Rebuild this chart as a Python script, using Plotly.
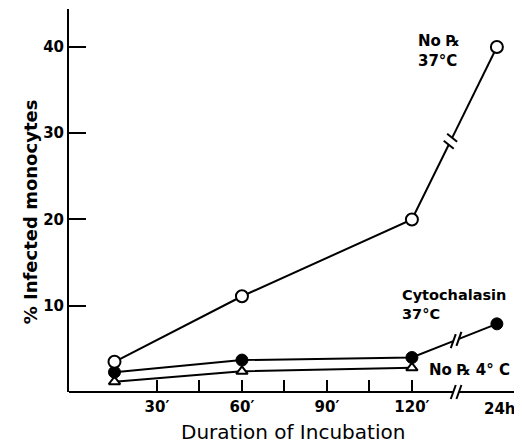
import numpy as np
import plotly.graph_objects as go

# ---- data ----
times = [15, 60, 120, 150]            # minutes; 150 stands for the 24h point (after the axis break)
no_rx_37 = [3.5, 11.1, 20.0, 40.0]
cytochalasin_37 = [2.3, 3.7, 4.0, 7.9]
times_4c = [15, 60, 120]
no_rx_4 = [1.2, 2.4, 2.8]

tick_vals = [30, 45, 60, 75, 90, 105, 120]
tick_text = ["30′", "", "60′", "", "90′", "", "120′"]
y_ticks = [10, 20, 30, 40]

X_RANGE = [-1.06, 157.1]
Y_RANGE = [0, 44.4]
FONT = "DejaVu Sans"


def broken(xs, ys, xb, half):
    """Return x/y with a gap around xb on the segment between the last two points."""
    xs = list(xs); ys = list(ys)
    xa, xc = xb - half, xb + half
    ya = float(np.interp(xa, xs[-2:], ys[-2:]))
    yc = float(np.interp(xc, xs[-2:], ys[-2:]))
    return xs[:-1] + [xa, None, xc, xs[-1]], ys[:-1] + [ya, None, yc, ys[-1]], (xa, ya), (xc, yc)


fig = go.Figure()

line = dict(color="black", width=2)

x1, y1, a1, c1 = broken(times, no_rx_37, 133.6, 0.6)
fig.add_trace(go.Scatter(x=x1, y=y1, mode="lines", line=line, hoverinfo="skip", showlegend=False))
x2, y2, a2, c2 = broken(times, cytochalasin_37, 135.6, 1.0)
fig.add_trace(go.Scatter(x=x2, y=y2, mode="lines", line=line, hoverinfo="skip", showlegend=False))
fig.add_trace(go.Scatter(x=times_4c, y=no_rx_4, mode="lines", line=line, hoverinfo="skip", showlegend=False))

# markers
fig.add_trace(go.Scatter(x=times_4c, y=no_rx_4, mode="markers", cliponaxis=False,
                         marker=dict(symbol="triangle-up", size=10, color="white",
                                     line=dict(color="black", width=2)), showlegend=False))
fig.add_trace(go.Scatter(x=times, y=cytochalasin_37, mode="markers", cliponaxis=False,
                         marker=dict(symbol="circle", size=12, color="black",
                                     line=dict(color="black", width=1)), showlegend=False))
fig.add_trace(go.Scatter(x=times, y=no_rx_37, mode="markers", cliponaxis=False,
                         marker=dict(symbol="circle", size=12, color="white",
                                     line=dict(color="black", width=2)), showlegend=False))

shapes = []
# break marks on the steep line
for (px, py) in (a1, c1):
    shapes.append(dict(type="line", xref="x", yref="y", xsizemode="pixel", ysizemode="pixel",
                       xanchor=px, yanchor=py, x0=-5, x1=5, y0=4, y1=-4,
                       line=dict(color="black", width=2)))
# break marks on the cytochalasin line
for (px, py) in (a2, c2):
    shapes.append(dict(type="line", xref="x", yref="y", xsizemode="pixel", ysizemode="pixel",
                       xanchor=px, yanchor=py, x0=-2.5, x1=2.5, y0=-7, y1=7,
                       line=dict(color="black", width=2)))

# x axis line with a break (paper coords)
def xp(v):
    return (v - X_RANGE[0]) / (X_RANGE[1] - X_RANGE[0])

axis_break, axis_half = 135.6, 1.0
shapes.append(dict(type="line", xref="paper", yref="paper", x0=0, x1=xp(axis_break - axis_half),
                   y0=0, y1=0, line=dict(color="black", width=2)))
shapes.append(dict(type="line", xref="paper", yref="paper", x0=xp(axis_break + axis_half), x1=1,
                   y0=0, y1=0, line=dict(color="black", width=2)))
for v in (axis_break - axis_half, axis_break + axis_half):
    shapes.append(dict(type="line", xref="paper", yref="paper", xsizemode="pixel", ysizemode="pixel",
                       xanchor=xp(v), yanchor=0, x0=-2.5, x1=2.5, y0=-7, y1=7,
                       line=dict(color="black", width=2)))

annotations = [
    dict(x=150, y=0, xref="x", yref="paper", text="<b>24h</b>", showarrow=False,
         yanchor="top", yshift=-6, xshift=3, font=dict(family=FONT, size=15, color="black")),
    dict(x=0.5, y=-0.104, xref="paper", yref="paper", text="Duration of Incubation", showarrow=False,
         yanchor="middle", font=dict(family=FONT, size=20, color="black")),
    dict(x=-0.112, y=0.47, xref="paper", yref="paper", text="<b>% Infected monocytes</b>",
         showarrow=False, textangle=-90, font=dict(family=FONT, size=18, color="black")),
    dict(x=129.5, y=39.5, xref="x", yref="y", text="<b>No ℞<br>37°C</b>", showarrow=False,
         align="left", font=dict(family=FONT, size=15, color="black")),
    dict(x=115.8, y=10.2, xref="x", yref="y", text="<b>Cytochalasin<br>37°C</b>", showarrow=False,
         xanchor="left", align="left", font=dict(family=FONT, size=14.5, color="black")),
    dict(x=125.3, y=2.55, xref="x", yref="y", text="<b>No ℞ 4° C</b>", showarrow=False,
         xanchor="left", font=dict(family=FONT, size=15, color="black")),
]

# The page places the figure 8px from the top-left corner, so the figure is
# sized to fill the rest of the 522x443 window.
fig.update_layout(
    width=514, height=435,
    margin=dict(l=61, r=5, t=1, b=51),
    paper_bgcolor="white", plot_bgcolor="white",
    shapes=shapes, annotations=annotations,
    xaxis=dict(range=X_RANGE, showgrid=False, zeroline=False, showline=False,
               tickvals=tick_vals, ticktext=tick_text, ticks="inside", ticklen=12,
               tickwidth=2, tickcolor="black", ticklabelstandoff=4,
               tickfont=dict(family=FONT, size=15, color="black", weight="bold")),
    yaxis=dict(range=Y_RANGE, showgrid=False, zeroline=False, showline=True, linecolor="black",
               linewidth=2, tickvals=y_ticks, ticks="inside", ticklen=17, tickwidth=2,
               tickcolor="black",
               tickfont=dict(family=FONT, size=15, color="black", weight="bold")),
)

fig.write_html("out.html")
